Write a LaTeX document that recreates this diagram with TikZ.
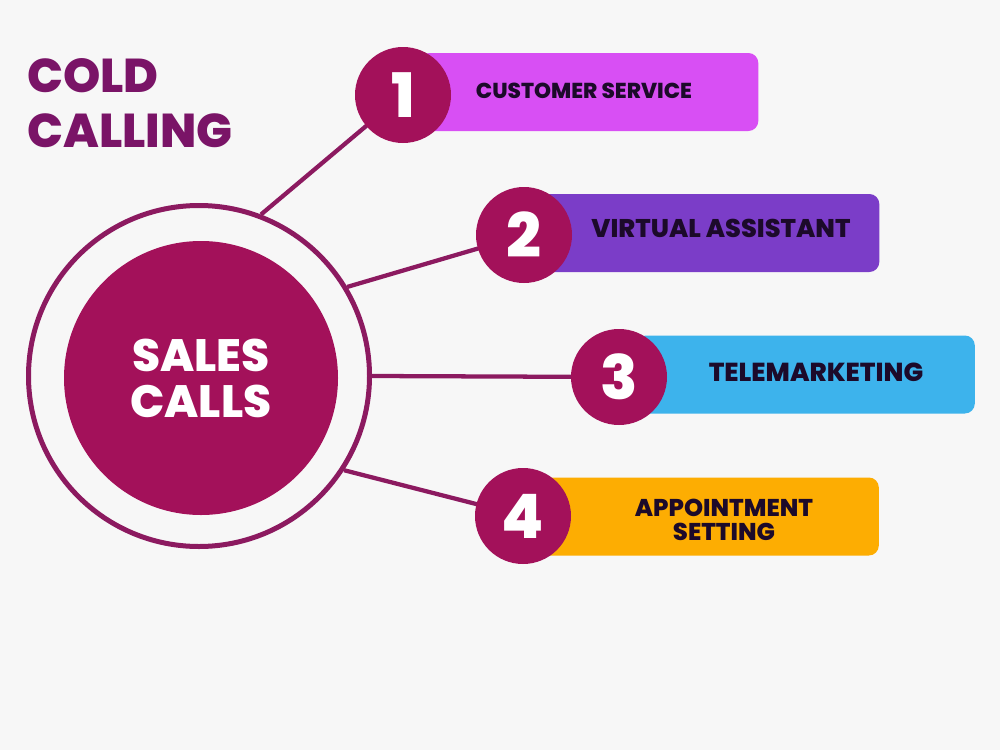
\documentclass[tikz,border=0pt]{standalone}
\usepackage{fontspec}
\setmainfont{Poppins}[BoldFont={Poppins ExtraBold}]
\definecolor{bgc}{HTML}{F7F7F7}
\definecolor{plum}{HTML}{7A1467}
\definecolor{ring}{HTML}{8C1A60}
\definecolor{berry}{HTML}{A3115A}
\definecolor{barA}{HTML}{D84FF4}
\definecolor{barB}{HTML}{7B3DC8}
\definecolor{barC}{HTML}{3DB3EC}
\definecolor{barD}{HTML}{FDAD02}
\definecolor{ink}{HTML}{1C0A2A}
\pgfdeclarelayer{back}
\pgfdeclarelayer{lines}
\pgfsetlayers{back,lines,main}
\begin{document}
\begin{tikzpicture}[x=0.75pt,y=-0.75pt,
  numc/.style={circle,fill=berry,text=white,minimum size=72pt,inner sep=0pt,
    font=\bfseries\fontsize{46}{46}\selectfont},
  barbox/.style={rounded corners=7.5pt,minimum height=58.5pt,minimum width=254pt,inner sep=0pt},
  bartext/.style={text=ink,align=center,inner sep=0pt},
  link/.style={draw=ring,line width=3.2pt}]
\begin{pgfonlayer}{back}
\fill[bgc] (0,0) rectangle (1000,750);
\end{pgfonlayer}
\useasboundingbox (0,0) rectangle (1000,750);

\node[anchor=north west,text=plum,align=left,inner sep=0pt,
  font=\bfseries\fontsize{35.6}{41.25}\selectfont] (title) at (27,58) {COLD\\CALLING};

\node[circle,draw=ring,line width=3.75pt,minimum size=255.75pt,inner sep=0pt] (outer) at (199,376) {};
\node[circle,fill=berry,minimum size=205.5pt,inner sep=0pt,text=white,align=center,
  font=\bfseries\fontsize{34}{34.5}\selectfont] (core) at (201,378) {SALES\\CALLS};

\node[barbox,fill=barA] (b1) at (589,92) {};
\node[barbox,fill=barB] (b2) at (710,233) {};
\node[barbox,fill=barC] (b3) at (805.5,374.5) {};
\node[barbox,fill=barD] (b4) at (709.5,516.5) {};

\node[bartext,font=\bfseries\fontsize{16.2}{18}\selectfont] (t1) at (584,91) {CUSTOMER SERVICE};
\node[bartext,font=\bfseries\fontsize{19.2}{20}\selectfont] (t2) at (721,228) {VIRTUAL ASSISTANT};
\node[bartext,font=\bfseries\fontsize{19.5}{20}\selectfont] (t3) at (816,372) {TELEMARKETING};
\node[bartext,font=\bfseries\fontsize{18.2}{17.5}\selectfont] (t4) at (724,520) {APPOINTMENT\\SETTING};

\node[numc] (n1) at (403,95) {1};
\node[numc] (n2) at (524,235) {2};
\node[numc] (n3) at (619,377) {3};
\node[numc] (n4) at (523,516) {4};

\begin{pgfonlayer}{lines}
\draw[link] (outer.69) -- (n1.center);
\draw[link] (outer.31) -- (n2.center);
\draw[link] (outer.0) -- (n3.center);
\draw[link] (outer.-33) -- (n4.center);
\end{pgfonlayer}
\end{tikzpicture}
\end{document}
